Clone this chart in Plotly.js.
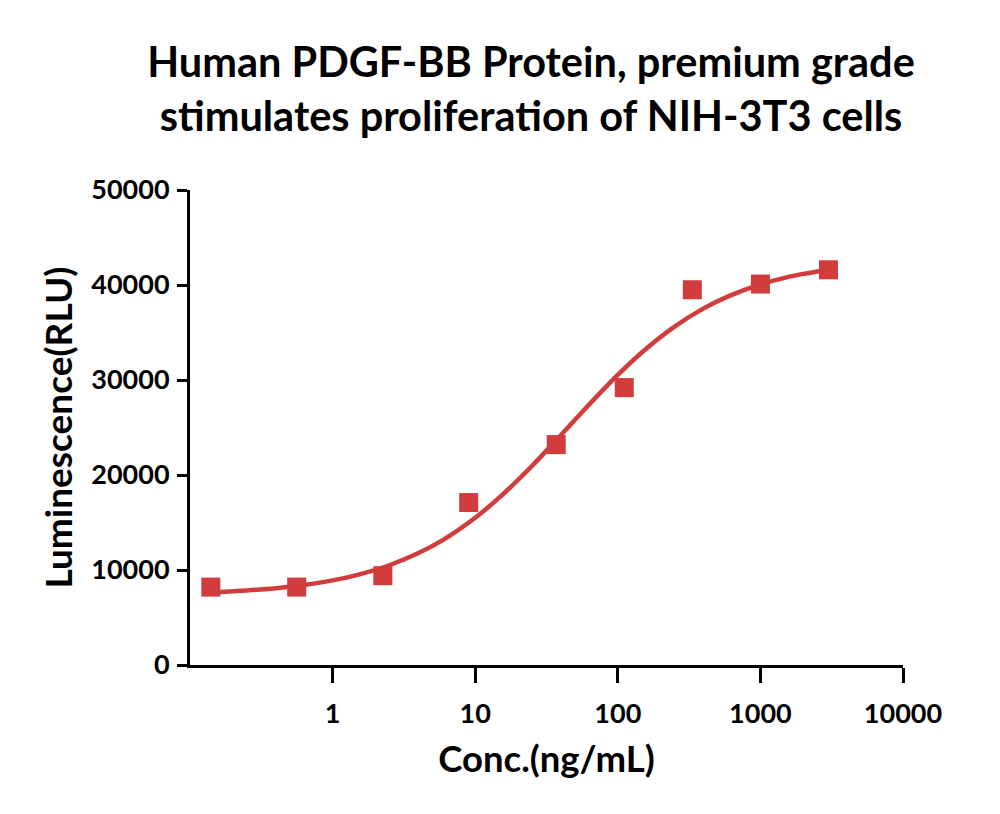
<!DOCTYPE html>
<html>
<head>
<meta charset="utf-8">
<script src="https://cdn.plot.ly/plotly-3.0.1.min.js"></script>
<style>html,body{margin:0;padding:0;background:#fff;}#chart{width:1000px;height:814px;}</style>
</head>
<body>
<div id="chart"></div>
<script>
// Measured points (ng/mL, RLU)
const concentrations = [0.14, 0.56, 2.25, 9, 37, 111, 333, 1000, 3000];
const luminescence = [8200, 8200, 9400, 17100, 23200, 29200, 39500, 40100, 41600];
// Fitted curve
const curveConc = [0.15, 0.25, 0.4, 0.6, 1, 1.5, 2.5, 4, 6, 10, 15, 25, 40, 60, 100, 150, 250, 400, 600, 1000, 1500, 2000, 3000];
const curveRLU = [7670, 7850, 8090, 8390, 8910, 9490, 10500, 11780, 13200, 15500, 17720, 20950, 24220, 27080, 30530, 33000, 35620, 37540, 38830, 40060, 40780, 41170, 41610];
const xTicks = [1, 10, 100, 1000, 10000];
const xTickText = ["1", "10", "100", "1000", "10000"];
const yTicks = [0, 10000, 20000, 30000, 40000, 50000];
const yTickText = ["0", "10000", "20000", "30000", "40000", "50000"];

const red = "#d23c3c";
const FONT = "Lato, 'Open Sans', sans-serif";

const traces = [
  {x: curveConc, y: curveRLU, type: "scatter", mode: "lines", line: {color: red, width: 4.5, shape: "spline"}, hoverinfo: "skip"},
  {x: concentrations, y: luminescence, type: "scatter", mode: "markers", marker: {symbol: "square", size: 19, color: red}}
];

const layout = {
  width: 1000, height: 814,
  margin: {l: 190, r: 97, t: 190, b: 149},
  paper_bgcolor: "#fff", plot_bgcolor: "#fff",
  showlegend: false,
  font: {family: FONT, color: "#000"},
  title: {
    text: "<b>Human PDGF-BB Protein, premium grade<br>stimulates proliferation of NIH-3T3 cells</b>",
    font: {family: FONT, size: 41.5, color: "#000"},
    x: 0.531, xref: "container", xanchor: "center",
    y: 0.905, yref: "container", yanchor: "top"
  },
  xaxis: {
    type: "log", range: [-1, 4],
    tickvals: xTicks, ticktext: xTickText,
    showgrid: false, zeroline: false,
    showline: true, linecolor: "#000", linewidth: 3,
    ticks: "outside", ticklen: 15, tickwidth: 3, tickcolor: "#000",
    ticklabelstandoff: 8,
    tickfont: {family: FONT, size: 27, color: "#000", weight: "bold"},
    title: {text: "<b>Conc.(ng/mL)</b>", font: {family: FONT, size: 36.5, color: "#000"}, standoff: 19}
  },
  yaxis: {
    range: [0, 50000],
    tickvals: yTicks, ticktext: yTickText,
    showgrid: false, zeroline: false,
    showline: true, linecolor: "#000", linewidth: 3,
    ticks: "outside", ticklen: 10, tickwidth: 3, tickcolor: "#000",
    ticklabelstandoff: 2,
    tickfont: {family: FONT, size: 27, color: "#000", weight: "bold"},
    title: {text: "<b>Luminescence(RLU)</b>", font: {family: FONT, size: 37, color: "#000"}, standoff: 8}
  }
};

Plotly.newPlot("chart", traces, layout, {displayModeBar: false, staticPlot: true});
</script>
</body>
</html>
